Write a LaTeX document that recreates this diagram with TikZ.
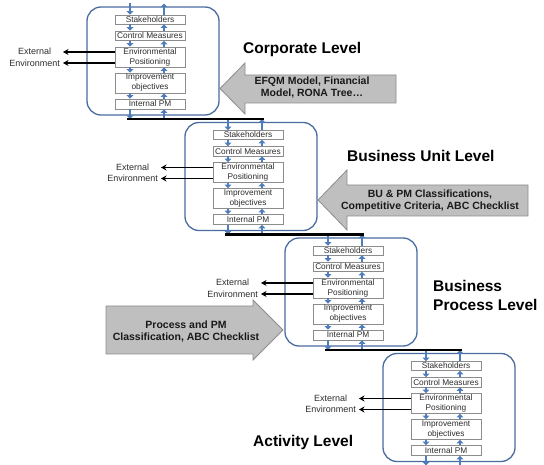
\documentclass[tikz,border=0pt]{standalone}
\usepackage{fontspec}
\setmainfont{Liberation Sans}
\usetikzlibrary{arrows.meta}
\definecolor{boxblue}{RGB}{74,108,160}
\definecolor{flowblue}{RGB}{79,124,186}
\definecolor{arrgrey}{RGB}{191,191,191}
\definecolor{arredge}{RGB}{140,140,140}
\definecolor{inedge}{RGB}{140,140,140}
\definecolor{intext}{RGB}{45,45,45}
\tikzset{
 outerbox/.style={draw=boxblue, line width=1.3pt, rounded corners=14pt, minimum width=132pt, minimum height=108pt, inner sep=0pt},
 inbox/.style={draw=inedge, line width=0.6pt, fill=white, minimum width=70pt, inner sep=0pt, align=center, text=intext, font=\fontsize{8.3}{10}\selectfont},
 flow/.style={draw=flowblue, line width=1.8pt, -{Triangle[length=3.5pt,width=6.5pt]}},
 link/.style={draw=black, line width=2.2pt},
 extarrow/.style={draw=black, line width=1.1pt, -{Stealth[length=5.5pt,width=6pt]}},
 extlbl/.style={align=center, font=\fontsize{9}{11.5}\selectfont, inner sep=0pt, anchor=east, text=intext},
 level/.style={font=\fontsize{15.5}{19}\selectfont\bfseries, inner sep=0pt, anchor=west},
 greyarrow/.style={fill=arrgrey, draw=arredge, line width=0.8pt, line join=miter},
 arrtext/.style={font=\fontsize{10.5}{12}\selectfont\bfseries, align=center, inner sep=0pt, text=black!90},
}
\newcommand\levelblock[3]{%
\begin{scope}[shift={(#2,#3)}]
 \node[outerbox] (#1box) at (66,54) {};
 \node[inbox, minimum height=9pt] (#1s) at (63,12.5) {Stakeholders};
 \node[inbox, minimum height=9.5pt] (#1c) at (63,28.75) {Control Measures};
 \node[inbox, minimum height=20pt] (#1e) at (63,50) {Environmental\\Positioning};
 \node[inbox, minimum height=20pt] (#1i) at (63,76) {Improvement\\objectives};
 \node[inbox, minimum height=10pt] (#1p) at (63,97) {Internal PM};
 \coordinate (#1tL) at (43,-3.5); \coordinate (#1tR) at (77,-3.5);
 \coordinate (#1bL) at (43,112); \coordinate (#1bR) at (77,112);
 \coordinate (#1x1) at (-24,45); \coordinate (#1x2) at (-24,56);
 \coordinate (#1xl) at (-27,50.5);
\end{scope}
\draw[flow] (#1tL) -- ([xshift=-20pt]#1s.north);
\draw[flow] ([xshift=14pt]#1s.north) -- (#1tR);
\draw[flow] ([xshift=-20pt]#1s.south) -- ([xshift=-20pt]#1c.north);
\draw[flow] ([xshift=14pt]#1c.north) -- ([xshift=14pt]#1s.south);
\draw[flow] ([xshift=-20pt]#1c.south) -- ([xshift=-20pt]#1e.north);
\draw[flow] ([xshift=14pt]#1e.north) -- ([xshift=14pt]#1c.south);
\draw[flow] ([xshift=-20pt]#1e.south) -- ([xshift=-20pt]#1i.north);
\draw[flow] ([xshift=14pt]#1i.north) -- ([xshift=14pt]#1e.south);
\draw[flow] ([xshift=-20pt]#1i.south) -- ([xshift=-20pt]#1p.north);
\draw[flow] ([xshift=14pt]#1p.north) -- ([xshift=14pt]#1i.south);
\draw[flow] ([xshift=-20pt]#1p.south) -- (#1bL);
\draw[flow] (#1bR) -- ([xshift=14pt]#1p.south);
\draw[extarrow] (#1e.west |- #1x1) -- (#1x1);
\draw[extarrow] (#1e.west |- #1x2) -- (#1x2);
\node[extlbl] (#1lbl) at (#1xl) {External\\Environment};
}
\begin{document}
\begin{tikzpicture}[x=1pt,y=-1pt]
\useasboundingbox (0,0) rectangle (544,465);
\levelblock{a}{87}{7}
\levelblock{b}{185}{122.5}
\levelblock{c}{285}{238}
\levelblock{d}{383}{353.5}
\draw[link] ([xshift=-3pt]abL) -- ([xshift=2pt]btR);
\draw[link] ([xshift=-3pt]bbL) -- ([xshift=2pt]ctR);
\draw[link] ([xshift=-3pt]cbL) -- ([xshift=2pt]dtR);
\draw[greyarrow] (396,75) -- (245,75) -- (245,63) -- (220,88.5) -- (245,114) -- (245,103) -- (396,103) -- cycle;
\node[arrtext] (t1) at (312,88) {EFQM Model, Financial\\Model, RONA Tree…};
\draw[greyarrow] (528,185) -- (347,185) -- (347,170) -- (318,200) -- (347,230) -- (347,216) -- (528,216) -- cycle;
\node[arrtext] (t2) at (430,200.5) {BU \& PM Classifications,\\Competitive Criteria, ABC Checklist};
\draw[greyarrow] (106,306) -- (253,306) -- (253,300) -- (283,330) -- (253,360) -- (253,354) -- (106,354) -- cycle;
\node[arrtext] (t3) at (186,332) {Process and PM\\Classification, ABC Checklist};
\node[level] (l1) at (243,49) {Corporate Level};
\node[level] (l2) at (347,156) {Business Unit Level};
\node[level, align=left] (l3) at (433,295) {Business\\Process Level};
\node[level] (l4) at (253,442) {Activity Level};
\end{tikzpicture}
\end{document}
